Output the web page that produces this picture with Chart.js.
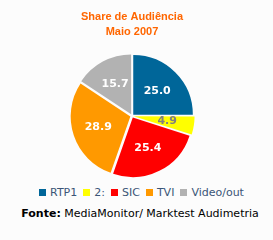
<!DOCTYPE html>
<html>
<head>
<meta charset="utf-8">
<script src="https://cdn.jsdelivr.net/npm/chart.js@4/dist/chart.umd.min.js"></script>
<style>
  html, body { margin: 0; padding: 0; background: #fcfcfc; }
  #wrap { position: relative; width: 273px; height: 240px; }
  #chartBox { position: absolute; left: 0; top: 0; width: 273px; height: 179px; }
  #legend { position: absolute; left: 0; top: 186px; width: 283px; display: flex; justify-content: center;
            font: 11px "DejaVu Sans", sans-serif; color: #3b5577; line-height: 13px; }
  #legend span.item { display: flex; align-items: center; margin: 0 3px; }
  #legend span.box { width: 7px; height: 7px; margin-right: 4px; }
  #fonte { position: absolute; left: 0; top: 207px; width: 280px; text-align: center;
           font: 11px "DejaVu Sans", sans-serif; color: #000; }
</style>
</head>
<body>
<div id="wrap">
  <div id="chartBox"><canvas id="shareChart"></canvas></div>
  <div id="legend"></div>
  <div id="fonte"><b>Fonte:</b> MediaMonitor/ Marktest Audimetria</div>
</div>
<script>
// --- Data ---
const channels = ['RTP1', '2:', 'SIC', 'TVI', 'Video/out'];
const shares = [25.0, 4.9, 25.4, 28.9, 15.7];
const titleLines = ['Share de Audiência', 'Maio 2007'];

const sliceColors = ['#006699', '#ffff00', '#ff0000', '#ff9900', '#b2b2b2'];
const labelColors = ['#ffffff', '#808080', '#ffffff', '#ffffff', '#ffffff'];

// values written inside each slice
const sliceLabels = {
    id: 'sliceLabels',
    afterDatasetsDraw(chart) {
        const ctx = chart.ctx;
        const meta = chart.getDatasetMeta(0);
        const offset = chart.data.datasets[0].offset;
        ctx.save();
        ctx.font = 'bold 11px "DejaVu Sans"';
        ctx.textAlign = 'center';
        ctx.textBaseline = 'middle';
        meta.data.forEach((arc, i) => {
            const p = arc.getProps(['x', 'y', 'startAngle', 'endAngle', 'outerRadius'], true);
            const mid = (p.startAngle + p.endAngle) / 2;
            const dist = offset + p.outerRadius * 0.48;
            ctx.fillStyle = labelColors[i];
            ctx.fillText(shares[i].toFixed(1), p.x + Math.cos(mid) * dist, p.y + Math.sin(mid) * dist);
        });
        ctx.restore();
    }
};

new Chart(document.getElementById('shareChart'), {
    type: 'pie',
    data: {
        labels: channels,
        datasets: [{
            data: shares,
            backgroundColor: sliceColors,
            borderWidth: 0,
            offset: 7
        }]
    },
    options: {
        responsive: true,
        maintainAspectRatio: false,
        animation: false,
        layout: { padding: { left: 0, right: 9, top: 0, bottom: 0 } },
        plugins: {
            legend: { display: false },
            tooltip: { enabled: false },
            title: {
                display: true,
                text: titleLines,
                color: '#ff6600',
                font: { family: '"Liberation Sans", Arial', size: 11, weight: 'bold', lineHeight: 1.4 },
                padding: { top: 9, bottom: 13 }
            }
        }
    },
    plugins: [sliceLabels]
});

// --- HTML legend ---
const legend = document.getElementById('legend');
channels.forEach((name, i) => {
    const item = document.createElement('span');
    item.className = 'item';
    const box = document.createElement('span');
    box.className = 'box';
    box.style.background = sliceColors[i];
    item.appendChild(box);
    item.appendChild(document.createTextNode(name));
    legend.appendChild(item);
});
</script>
</body>
</html>
